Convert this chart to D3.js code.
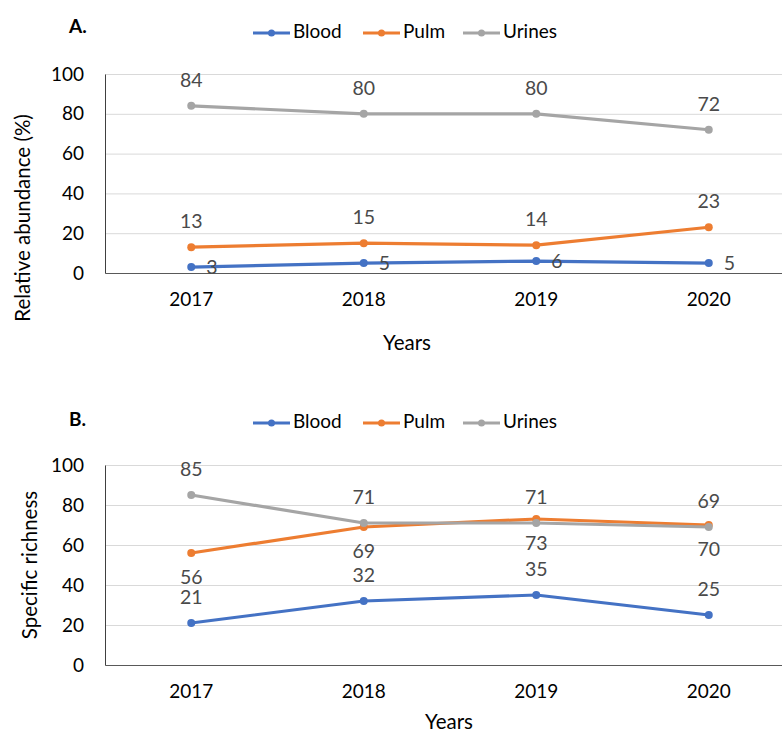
<!DOCTYPE html>
<html>
<head>
<meta charset="utf-8">
<script src="https://cdn.jsdelivr.net/npm/d3@7.9.0/dist/d3.min.js"></script>
<style>
  body { margin: 0; background: #fff; }
  svg { font-family: Lato, "Open Sans", sans-serif; }
</style>
</head>
<body>
<svg id="chart" width="782" height="734"></svg>
<script>
const years = ['2017', '2018', '2019', '2020'];
const seriesNames = ['Blood', 'Pulm', 'Urines'];
const yTicks = [0, 20, 40, 60, 80, 100];

// panel A: relative abundance (%)
const abundBlood = [3, 5, 6, 5];
const abundPulm = [13, 15, 14, 23];
const abundUrines = [84, 80, 80, 72];

// panel B: specific richness
const richBlood = [21, 32, 35, 25];
const richPulm = [56, 69, 73, 70];
const richUrines = [85, 71, 71, 69];

const colors = { Blood: '#4472C4', Pulm: '#ED7D31', Urines: '#A5A5A5' };

const svg = d3.select('#chart');

function drawPanel(opt) {
  const g = svg.append('g');
  const x = d3.scaleBand().domain(years).range([105, 795]);
  const y = d3.scaleLinear().domain([0, 100]).range([opt.bottom, opt.top]);

  // panel letter
  g.append('text').attr('x', 69).attr('y', opt.letterY)
    .attr('font-weight', 'bold').attr('font-size', 19).attr('dominant-baseline', 'middle')
    .text(opt.letter);

  // legend
  const legX = [253, 363, 463];
  seriesNames.forEach((s, i) => {
    const lg = g.append('g').attr('transform', `translate(${legX[i]},${opt.legendY})`);
    lg.append('line').attr('x1', 0).attr('x2', 37).attr('stroke', colors[s]).attr('stroke-width', 3);
    lg.append('circle').attr('cx', 18.5).attr('r', 3.5).attr('fill', colors[s]);
    lg.append('text').attr('x', 40).attr('dominant-baseline', 'middle')
      .attr('font-size', 19).attr('fill', '#000').text(s);
  });

  // gridlines
  g.append('g').attr('transform', 'translate(105,0)')
    .call(d3.axisLeft(y).tickValues(yTicks).tickSize(-690).tickFormat(''))
    .call(a => a.select('.domain').remove())
    .call(a => a.selectAll('line').attr('stroke', '#D9D9D9'));

  // y axis labels
  g.append('g').attr('transform', 'translate(105,0)')
    .call(d3.axisLeft(y).tickValues(yTicks).tickSize(0).tickPadding(21))
    .call(a => a.select('.domain').attr('stroke', '#404040'))
    .call(a => a.selectAll('text').attr('font-size', 19).attr('fill', '#000')
      .attr('font-family', 'Lato, sans-serif'));

  // x axis
  g.append('g').attr('transform', `translate(0,${opt.bottom})`)
    .call(d3.axisBottom(x).tickSize(0).tickPadding(opt.xPad))
    .call(a => a.select('.domain').attr('stroke', '#595959'))
    .call(a => a.selectAll('text').attr('font-size', 19).attr('fill', '#000')
      .attr('font-family', 'Lato, sans-serif'));

  // axis titles
  g.append('text').attr('transform', `translate(${opt.yTitleX},${opt.yTitleY}) rotate(-90)`)
    .attr('text-anchor', 'middle').attr('dominant-baseline', 'middle')
    .attr('font-size', 20.5).text(opt.yTitle);
  g.append('text').attr('x', opt.xTitleX).attr('y', opt.xTitleY)
    .attr('text-anchor', 'middle').attr('dominant-baseline', 'middle')
    .attr('font-size', 20.5).text('Years');

  const line = d3.line().x((d, i) => x(years[i]) + x.bandwidth() / 2).y(d => y(d));

  opt.series.forEach(([name, vals, pos]) => {
    g.append('path').datum(vals).attr('d', line).attr('fill', 'none')
      .attr('stroke', colors[name]).attr('stroke-width', 3.2).attr('stroke-linejoin', 'round');
    g.selectAll(null).data(vals).join('circle')
      .attr('cx', (d, i) => x(years[i]) + x.bandwidth() / 2)
      .attr('cy', d => y(d)).attr('r', 4).attr('fill', colors[name]);
    g.selectAll(null).data(vals).join('text')
      .attr('x', (d, i) => x(years[i]) + x.bandwidth() / 2 + (pos === 'right' ? 15 : 0))
      .attr('y', d => y(d) + (pos === 'above' ? -24 : pos === 'below' ? 26 : 2))
      .attr('text-anchor', pos === 'right' ? 'start' : 'middle')
      .attr('dominant-baseline', 'middle')
      .attr('font-size', 19.5).attr('fill', '#4a4a4a')
      .text(d => d);
  });
}

drawPanel({
  letter: 'A.', letterY: 28, legendY: 33, top: 74, bottom: 273, xPad: 20,
  yTitle: 'Relative abundance (%)', yTitleX: 25, yTitleY: 218,
  xTitleX: 407, xTitleY: 345,
  series: [['Blood', abundBlood, 'right'], ['Pulm', abundPulm, 'above'], ['Urines', abundUrines, 'above']]
});

drawPanel({
  letter: 'B.', letterY: 421, legendY: 423, top: 465, bottom: 665, xPad: 20,
  yTitle: 'Specific richness', yTitleX: 32, yTitleY: 565,
  xTitleX: 449, xTitleY: 724,
  series: [['Blood', richBlood, 'above'], ['Pulm', richPulm, 'below'], ['Urines', richUrines, 'above']]
});
</script>
</body>
</html>
